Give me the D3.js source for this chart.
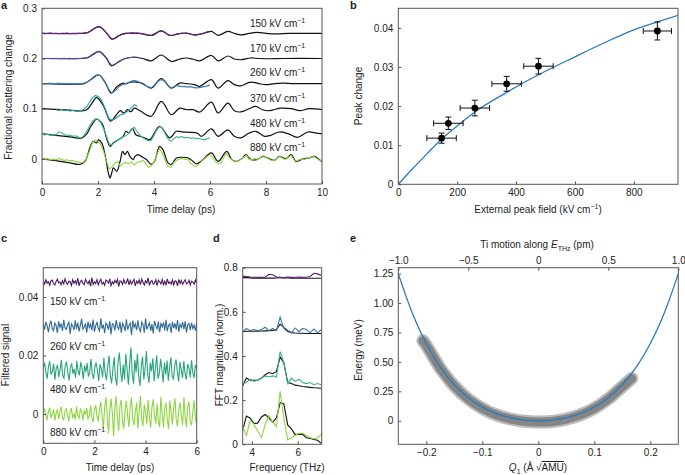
<!DOCTYPE html>
<html><head><meta charset="utf-8">
<script src="https://cdn.jsdelivr.net/npm/d3@7"></script>
<style>
body{margin:0;background:#fff}
text{font-family:"Liberation Sans",Arial,Helvetica,sans-serif;fill:#222}
</style>
</head><body>
<svg id="fig" width="685" height="475"></svg>
<script>
// ---------------- Panel a data (values in units of 1e-3, relative to offsets) ----------------
const aFields = ["150","170","260","370","480","880"];
const aOffsets = [0.25,0.2,0.15,0.1,0.05,0];
const aColors = ["#6a2381","#5a53a6","#3d7db5","#22a2a6","#36b97c","#8fd540"];
const aXTicks = [0,2,4,6,8,10];
const aYTicks = [0,0.1,0.2,0.3];
const aFit150 = [[0,0],[1.4,0],[1.6,1],[1.8,7],[2.05,13.5],[2.3,1],[2.49,-11.5],[2.7,-6],[2.9,-1],[3.2,0.5],[3.5,0],[3.9,-4],[4.26,5],[4.56,-4],[4.92,-0.5],[5.15,0.5],[5.45,-3],[5.7,-1],[6.05,4],[6.29,-4],[6.64,4],[6.87,0],[7.1,-3],[7.4,0],[7.7,2],[8.0,0],[8.4,-1],[8.8,0],[9.4,0],[10,0]];
const aFit170 = [[0,0],[1.4,0],[1.6,1],[1.8,7],[2.05,14],[2.3,1],[2.47,-14.5],[2.7,-8],[2.95,-0.5],[3.25,2.5],[3.6,0],[3.9,-4.6],[4.26,7],[4.62,-6],[4.92,-1],[5.15,1],[5.4,-1.5],[5.63,-4.6],[6.05,6],[6.29,-4.6],[6.64,5],[6.87,-1],[7.1,-2.5],[7.45,1],[7.75,0],[8.1,-0.5],[8.6,0],[10,0]];
const aFit260 = [[0,0],[1.3,-1],[1.5,0],[1.75,8],[2.02,17.6],[2.25,3],[2.47,-19],[2.68,-5.7],[2.9,1],[3.0,-0.5],[3.15,3],[3.4,3],[3.6,0],[3.9,-9],[4.26,10],[4.62,-9],[4.92,1],[5.15,0],[5.45,-2],[5.63,-5.5],[6.05,8],[6.29,-9],[6.64,6],[6.87,-2],[7.1,-4.5],[7.45,3],[7.75,0],[8.0,-2],[8.3,0],[8.6,1],[9.0,0],[10,0]];
const aFit370 = [[0,0],[0.5,-1.5],[1.0,-3],[1.4,-4.5],[1.6,-2],[1.8,12],[1.95,22.5],[2.2,5],[2.45,-25],[2.62,-15],[2.8,-4],[2.92,-9],[3.05,-2],[3.17,-6],[3.3,1],[3.5,-4],[3.9,-15],[4.26,14.6],[4.62,-12],[4.92,1],[5.15,-2],[5.4,-2],[5.63,-6.6],[6.05,13],[6.29,-8.6],[6.64,11],[6.87,-4],[7.1,-6.5],[7.4,0],[7.64,4.5],[7.87,-2],[8.12,-4],[8.5,1],[8.9,0],[9.2,-4],[9.55,0],[10,-2]];
const aFit480 = [[0,0],[0.5,-3],[1.0,-6],[1.42,-8.5],[1.6,0],[1.75,15],[1.95,29],[2.15,20],[2.3,-8],[2.43,-25],[2.55,-18],[2.73,-12],[2.9,-5],[3.0,5],[3.1,1.5],[3.23,11],[3.35,-2],[3.5,-5],[3.65,-8],[3.85,-11.6],[4.2,15],[4.56,-8],[4.8,5],[5.05,3.5],[5.3,3],[5.55,1],[5.7,-5],[6.05,10],[6.29,-5],[6.64,8],[6.87,-5],[7.1,-8],[7.4,1.5],[7.64,5],[7.94,-5],[8.17,-3],[8.47,3.6],[8.8,0],[9.13,-7],[9.5,3.6],[9.8,1.5],[10,0]];
const aFit880 = [[0,0],[0.6,-4.5],[1.0,-8],[1.35,-11],[1.54,-4.6],[1.71,22],[1.83,35],[1.95,32],[2.01,38],[2.13,32],[2.25,9],[2.37,-28],[2.43,-38],[2.49,-28],[2.55,-18],[2.67,-24.5],[2.79,-4.6],[2.88,15],[2.96,8.6],[3.05,15],[3.14,5],[3.26,-1.3],[3.32,5],[3.43,8.6],[3.55,5],[3.73,-1.3],[3.9,-11],[4.02,-4.6],[4.2,25],[4.32,18.5],[4.5,-8],[4.62,-11],[4.8,2],[4.98,3.3],[5.21,2],[5.39,-4.6],[5.51,-10],[5.69,-4.6],[6.05,12],[6.29,-5],[6.6,15],[6.77,-1],[6.93,-5],[7.17,2],[7.28,8.6],[7.46,-1],[7.7,-1],[7.88,5],[8.06,2],[8.3,-3],[8.47,5],[8.71,0.6],[8.9,8.6],[9.07,-5],[9.31,0],[9.55,2],[9.73,5],[9.9,-1],[10,-6]];
const aFits = [aFit150,aFit170,aFit260,aFit370,aFit480,aFit880];
// measured traces, sampled every aDataStep ps from aDataStart
const aDataStart = [0,0,0,0.5,0,0];
const aDataStep = 0.1;
const aData150 = [0.5,-0.5,0,0.8,-0.3,0.4,-0.6,0.3,0,0.7,-0.4,0.2,-0.5,0.4,-0.2,0.8,1.5,3.5,7.5,11,13.5,12,7,1.5,-6,-11.5,-10,-6.5,-3,-1.5,0.5,-0.3,1,0.2,0.8,-0.5,-0.8,-2,-3.2,-4.5,-3,1,4.5,4.8,2,-2.5,-4,-3.2,-1.5,-0.5,0.8,-0.2,0.3,-1.2,-2.5,-3.5,-2.2,-1,1,2.5,3.5];
const aData170 = [0.3,-0.4,0.5,0,-0.5,0.4,0.1,-0.3,0.6,-0.2,0.3,-0.4,0.2,-0.3,0.4,0.8,2,4,8,12,14,12,6,0,-8,-14,-12,-8,-4,-1.5,0.5,1.8,2.2,3,2.5];
const aData260 = [0.5,-0.8,0.3,1,-0.5,0.2,1.2,-0.6,0.4,-0.3,0.8,-0.8,0.2,-0.6,0.3,1,2.5,6,11,16,18,15,8,-2,-13,-19,-15,-9,-4,-2,0,2,5,6,5,2,-1.5,-4,-6.5,-8,-4,2,7,8,3,-3,-9.5,-7,-4,-5,-6,-5.5,-7,-6,-7.5,-8.5,-8,-7,-6,-4.5,-3];
const aData370 = [-2,-3.5,-1.5,-4,-2.5,-5,-3,-4.5,-5.5,-4,-1,4,13,22,26,25,19,8,-8,-20,-22,-21,-16,-12,-11,-7,-3,2,8,5];
const aData480 = [-1,-2.5,-1,-3,-1.5,-2,4,2,-1.5,-3.5,-2.5,-5,-4,-6.5,-8,-3,5,16,25,30,29,22,10,-5,-20,-22,-16,-13,-10,-6,-4,1,9,13,4,-3,-8,-11,-14,-13,-3,8,14,12,0,-10,-15,-10,-6,-7,-5.5,-8,-7,-9,-8,-10,-9,-11,-12,-10,-8];
const aData880 = [0,-1,0.5,-1.5,-0.5,-2,1,-1.5,-3,-2,-4,-3,-5.5,-6,-8,-6,2,16,32,38,35,28,15,-4,-20,-16,-8,-5,-14,-9,-7,-10,-6,-12,-7,-5,-3,-9,-17,-14,-6,8,21,12,-4,-15,-17,-8,-3,0,1,-1,0.5,-8,-13,-16,-11,-5,0,5,8.5,3,-6,-10,-8,4,10,2,-3,-6,-4,-1,3,7,-1,-2,1,-1,3,6,3,0,-3,-4,2,5,1,-1,4,7,-2,-4,-1,0,-1,2,3,5,1,-2,-4];
const aData = [aData150,aData170,aData260,aData370,aData480,aData880];

// ---------------- Panel b data ----------------
const bField = [147,170,260,368,476,880];
const bPeak = [0.0118,0.0156,0.0195,0.0257,0.0302,0.0392];
const bFieldErr = [50,50,50,50,50,48];
const bPeakErr = [0.0013,0.0016,0.002,0.0019,0.002,0.0023];
const bFitField = [0,50,100,142,200,260,368,476,600,700,800,880,950];
const bFitPeak = [0,0.0041,0.008,0.0112,0.0149,0.0185,0.0235,0.028,0.0326,0.0362,0.0395,0.0415,0.0432];
const bXTicks = [0,200,400,600,800];
const bYTicks = [0,0.01,0.02,0.03,0.04];

// ---------------- Panel c data (units of 1e-3, relative to offsets, 0–6 ps) ----------------
const cFields = ["150","260","480","880"];
const cOffsets = [0.045,0.03,0.015,0];
const cColors = ["#4b1a5f","#2e6a95","#27a67a","#8dd63f"];
const cXTicks = [0,2,4,6];
const cYTicks = [0,0.02,0.04];
const cSig150 = [0.4,-0.6,0.9,-0.3,0.2,-1.0,0.5,0.8,-0.4,-0.9,0.3,1.1,-0.2,0.1,-0.8,0.6,-0.5,1.2,-0.1,-0.7,0.4,0.2,-1.1,0.9,-0.3,0.5,-0.6,1.4,-1.2,0.3,0.7,-0.4,-0.8,1.0,0.1,-0.5,0.6,-1.3,1.6,-0.7,0.2,-0.4,0.9,-0.9,0.3,1.1,-0.6,0.0,-1.0,0.8,0.4,-0.3,1.2,-1.1,0.2,-0.5,0.7,-0.2,1.0,-1.4,0.5,0.3,-0.7,0.9,-0.4,-0.1,1.3,-0.9,0.6,-0.6,0.2,1.0,-1.2,0.4,-0.3,0.8,-0.8,1.1,0.0,-0.9,0.5,-0.2,1.5,-1.0,0.3,0.6,-0.7,-0.3,0.9,-1.1,0.7,0.2,-0.5,1.0,-0.8,0.4,-1.0,1.2,-0.3,0.1,-0.6,0.8,-0.9,0.5,0.3,-1.2,1.0,-0.4,0.6,-0.7,0.2,0.9,-0.5,-0.2,0.7,-0.9,0.4,0.1,-0.6,0.8,-0.3];
const cSig260 = [0.8,-1.2,1.5,0.2,-2.0,0.6,1.9,-0.8,-1.5,1.1,0.3,-2.3,1.7,-0.4,0.9,-1.6,2.2,-0.6,-1.1,0.5,1.4,-2.6,0.8,0.1,-1.3,2.0,-0.9,1.2,-1.8,0.4,2.5,-1.0,-0.3,1.0,-2.1,1.6,-0.5,0.7,-1.4,2.3,-1.9,0.2,1.3,-0.7,-1.6,2.7,-0.8,0.5,-2.4,1.1,0.4,-1.2,1.8,-2.8,0.9,0.6,-1.5,2.1,-0.3,-1.0,1.5,-2.2,1.0,0.2,-1.7,2.4,-1.2,0.3,1.1,-3.0,1.9,-0.4,0.8,-1.3,2.0,-0.9,-1.8,1.4,0.5,-2.2,2.6,-1.1,0.1,1.2,-1.6,0.7,-2.5,1.8,0.3,-0.9,1.6,-2.0,0.9,-0.2,1.3,-1.4,2.2,-1.7,0.4,0.8,-2.3,1.5,-0.6,1.0,-1.2,2.1,-1.9,0.6,-0.4,1.4,-1.0,1.7,-2.1,0.5,0.9,-1.3,1.2,-0.8,0.3,-1.5,1.1];
const cSig480 = [0.5,2.6,-0.8,-2.9,1.2,3.1,-1.5,-0.4,2.2,-3.3,0.6,1.8,-2.4,0.2,3.5,-1.9,-2.8,1.4,2.9,-0.7,-3.6,0.9,2.3,-1.2,0.4,-2.6,3.2,-0.3,-1.8,2.7,0.8,-3.1,1.6,-0.6,2.4,-2.2,-0.9,3.8,-1.4,-3.0,1.1,2.6,-0.2,-3.7,2.0,0.5,-2.5,4.2,-1.0,-3.4,1.5,5.0,-1.8,-4.5,0.6,4.4,-2.5,-5.2,2.8,6.0,-0.5,-4.0,1.9,-3.2,5.5,0.3,-5.0,2.2,7.8,-1.3,-4.6,3.5,-0.8,5.6,-2.0,-5.4,1.4,4.6,-3.3,0.7,6.5,-1.6,-4.4,2.6,-0.4,4.0,-3.8,1.0,5.1,-2.9,-1.2,3.9,0.4,-4.2,2.5,-1.5,3.3,-3.6,0.9,4.4,-2.1,-3.0,1.7,3.6,-0.6,-3.9,2.8,0.2,-2.7,3.1,-1.4,-3.2,2.0,0.8,-2.5,3.4,-0.9,-2.6,1.8,0.4];
const cSig880 = [0.4,1.9,-0.6,-1.8,0.9,2.2,-1.3,-0.2,1.6,-2.3,0.5,1.4,-1.7,0.8,2.5,-1.1,-2.0,1.0,1.8,-0.4,-2.4,0.7,2.0,-1.5,0.2,-1.9,2.6,-0.5,-1.4,1.7,0.9,-2.2,1.3,-0.3,2.1,-1.6,-0.8,2.9,-1.2,-2.7,1.5,3.0,-0.6,-2.5,1.8,4.2,-1.0,-4.8,2.5,5.8,-0.9,-6.6,1.4,5.3,0.2,-7.6,2.1,6.1,-1.5,-5.7,3.0,4.8,-2.4,-5.1,1.6,4.5,-0.8,-4.4,2.7,5.6,-1.9,-3.8,0.6,3.9,-5.0,1.2,6.2,-2.3,-4.1,3.3,0.5,-3.5,4.8,-1.0,-4.7,2.4,5.0,-0.6,-3.2,3.6,-2.8,-4.4,5.9,0.3,-4.6,2.0,3.8,-1.7,-5.1,4.6,0.8,-3.6,2.2,5.4,-2.0,-4.2,1.5,3.9,-0.5,-3.8,5.7,-1.3,-4.5,2.9,4.2,-2.6,-3.9,1.1,4.7,-1.8,-3.3];
const cSigs = [cSig150,cSig260,cSig480,cSig880];

// ---------------- Panel d data ----------------
const dFreq = [3.6,3.76,3.93,4.09,4.25,4.42,4.58,4.74,4.91,5.07,5.23,5.39,5.56,5.72,5.88,6.05,6.21,6.37,6.53,6.7,6.86,7.02];
const dData150 = [0.762,0.76,0.758,0.757,0.757,0.756,0.758,0.77,0.768,0.758,0.755,0.755,0.758,0.756,0.757,0.758,0.756,0.757,0.76,0.775,0.772,0.765];
const dFit150 = [0.755,0.755,0.754,0.753,0.753,0.753,0.753,0.753,0.753,0.754,0.756,0.754,0.753,0.752,0.752,0.752,0.752,0.752,0.752,0.752,0.752,0.752];
const dData260 = [0.51,0.525,0.515,0.52,0.515,0.52,0.53,0.515,0.525,0.515,0.576,0.525,0.51,0.505,0.527,0.51,0.525,0.52,0.505,0.522,0.505,0.52];
const dFit260 = [0.51,0.512,0.512,0.512,0.512,0.513,0.514,0.515,0.516,0.52,0.545,0.53,0.515,0.506,0.504,0.503,0.503,0.502,0.502,0.502,0.502,0.502];
const dData480 = [0.275,0.28,0.295,0.285,0.29,0.30,0.31,0.305,0.31,0.305,0.42,0.37,0.275,0.30,0.285,0.295,0.28,0.275,0.28,0.27,0.275,0.27];
const dFit480 = [0.265,0.30,0.29,0.29,0.29,0.30,0.315,0.325,0.32,0.33,0.395,0.37,0.28,0.275,0.268,0.265,0.262,0.26,0.258,0.256,0.255,0.254];
const dData880 = [0.08,0.04,0.11,0.09,0.06,0.03,0.09,0.13,0.10,0.08,0.24,0.12,0.02,0.03,0.04,0.05,0.05,0.04,0.03,0.025,0.03,0.045];
const dFit880 = [0.063,0.128,0.118,0.095,0.096,0.124,0.135,0.12,0.10,0.12,0.189,0.184,0.088,0.07,0.045,0.045,0.045,0.03,0.027,0.022,0.018,0.004];
const dData = [dData150,dData260,dData480,dData880];
const dFits = [dFit150,dFit260,dFit480,dFit880];
const dColors = ["#5c1f72","#3a76aa","#2fb57c","#8dd640"];
const dXTicks = [4,6];
const dYTicks = [0,0.2,0.4,0.6,0.8];

// ---------------- Panel e data ----------------
const eQ = [-0.25,-0.225,-0.2,-0.175,-0.15,-0.125,-0.1,-0.075,-0.05,-0.025,0,0.025,0.05,0.075,0.1,0.125,0.15,0.175,0.2,0.225,0.25];
const eEnergy = [1.25,0.916,0.656,0.456,0.306,0.195,0.116,0.061,0.026,0.006,0,0.006,0.026,0.061,0.116,0.195,0.306,0.456,0.656,0.916,1.25];
const eBandQ = [-0.206,-0.2,-0.175,-0.15,-0.125,-0.1,-0.075,-0.05,-0.025,0,0.025,0.05,0.075,0.1,0.125,0.15,0.167];
const eBandE = [0.68,0.64,0.445,0.295,0.185,0.105,0.05,0.015,-0.004,-0.01,-0.006,0.014,0.05,0.105,0.185,0.29,0.36];
const eXTicks = [-0.2,-0.1,0,0.1,0.2];
const eTopTicks = [-1,-0.5,0,0.5,1];
const eYTicks = [0,0.25,0.5,0.75,1,1.25];

// ---------------- drawing ----------------
const svg = d3.select("#fig");
const FRAME = "#555";
function fmt(spec){ return d => d === 0 ? "0" : d3.format(spec)(d); }
function clean(g){
  g.select(".domain").remove();
  g.selectAll(".tick line").attr("stroke", FRAME).attr("stroke-width", 1);
  g.selectAll(".tick text").attr("font-size", 10).attr("fill", "#222")
   .attr("font-family", '"Liberation Sans",Arial,Helvetica,sans-serif');
}
function frame(xs, ys, xt, yt, xf, yf){
  const [x0,x1] = xs.range(), [y0,y1] = ys.range();
  svg.append("g").attr("transform", `translate(0,${y0})`)
    .call(d3.axisBottom(xs).tickValues(xt).tickFormat(xf).tickSize(-3).tickPadding(5)).call(clean);
  svg.append("g").attr("transform", `translate(${x0},0)`)
    .call(d3.axisLeft(ys).tickValues(yt).tickFormat(yf).tickSize(-3).tickPadding(5)).call(clean);
  svg.append("rect").attr("x", x0).attr("y", y1).attr("width", x1-x0).attr("height", y0-y1)
    .attr("fill","none").attr("stroke",FRAME).attr("stroke-width",1);
}
function clip(id, xs, ys){
  const [x0,x1] = xs.range(), [y0,y1] = ys.range();
  svg.append("clipPath").attr("id", id).append("rect")
    .attr("x", x0).attr("y", y1).attr("width", x1-x0).attr("height", y0-y1);
  return svg.append("g").attr("clip-path", `url(#${id})`);
}
function vtitle(x, y, txt){
  svg.append("text").attr("transform", `translate(${x},${y}) rotate(-90)`)
    .attr("text-anchor","middle").attr("font-size",10).text(txt);
}
function htitle(x, y, txt){
  return svg.append("text").attr("x",x).attr("y",y).attr("text-anchor","middle").attr("font-size",10).text(txt);
}
function kvLabel(x, y, num){
  const t = svg.append("text").attr("x",x).attr("y",y).attr("font-size",10);
  t.append("tspan").text(num + " kV cm");
  t.append("tspan").attr("dy",-4).attr("font-size",7).text("\u22121");
}
function letter(x, y, s){
  svg.append("text").attr("x",x).attr("y",y).attr("font-size",11).attr("font-weight","bold").text(s);
}

// ===== Panel a =====
const xa = d3.scaleLinear().domain([0,10]).range([42,322]);
const ya = d3.scaleLinear().domain([-0.05,0.3]).range([184,8.3]);
const ga = clip("clipA", xa, ya);
aFits.forEach((fit,i) => {
  const line = d3.line().x(d => xa(d[0])).y(d => ya(aOffsets[i] + d[1]/1000)).curve(d3.curveCatmullRom.alpha(0.5));
  ga.append("path").attr("d", line(fit)).attr("fill","none").attr("stroke","#111").attr("stroke-width",1.2);
});
aData.forEach((arr,i) => {
  const line = d3.line().x((d,k) => xa(aDataStart[i] + k*aDataStep)).y(d => ya(aOffsets[i] + d/1000));
  ga.append("path").attr("d", line(arr)).attr("fill","none").attr("stroke",aColors[i]).attr("stroke-width",1.1);
});
frame(xa, ya, aXTicks, aYTicks, fmt("d"), fmt(".1f"));
const aLabelY = [27,52,76,101.5,127,150.5];
aFields.forEach((f,i) => kvLabel(250, aLabelY[i], f));
vtitle(11.5, 97, "Fractional scattering change");
htitle(181, 213, "Time delay (ps)");
letter(1, 9, "a");

// ===== Panel b =====
const xb = d3.scaleLinear().domain([0,950]).range([398.3,678]);
const yb = d3.scaleLinear().domain([0,0.045]).range([184.3,8.3]);
const gb = clip("clipB", xb, yb);
const bLine = d3.line().x((d,i) => xb(bFitField[i])).y(d => yb(d)).curve(d3.curveMonotoneX);
gb.append("path").attr("d", bLine(bFitPeak)).attr("fill","none").attr("stroke","#2a7bbd").attr("stroke-width",1.3);
bField.forEach((f,i) => {
  const p = bPeak[i], ex = bFieldErr[i], ey = bPeakErr[i];
  const g = svg.append("g").attr("stroke","#111").attr("stroke-width",1);
  g.append("line").attr("x1",xb(f-ex)).attr("x2",xb(f+ex)).attr("y1",yb(p)).attr("y2",yb(p));
  g.append("line").attr("x1",xb(f-ex)).attr("x2",xb(f-ex)).attr("y1",yb(p)-3).attr("y2",yb(p)+3);
  g.append("line").attr("x1",xb(f+ex)).attr("x2",xb(f+ex)).attr("y1",yb(p)-3).attr("y2",yb(p)+3);
  g.append("line").attr("x1",xb(f)).attr("x2",xb(f)).attr("y1",yb(p-ey)).attr("y2",yb(p+ey));
  g.append("line").attr("x1",xb(f)-3).attr("x2",xb(f)+3).attr("y1",yb(p-ey)).attr("y2",yb(p-ey));
  g.append("line").attr("x1",xb(f)-3).attr("x2",xb(f)+3).attr("y1",yb(p+ey)).attr("y2",yb(p+ey));
  svg.append("circle").attr("cx",xb(f)).attr("cy",yb(p)).attr("r",3.4).attr("fill","#000");
});
frame(xb, yb, bXTicks, bYTicks, fmt("d"), fmt(".2f"));
vtitle(361.5, 96, "Peak change");
{
  const t = htitle(538, 213, "External peak field (kV cm");
  t.append("tspan").attr("dy",-4).attr("font-size",7).text("\u22121");
  t.append("tspan").attr("dy",4).text(")");
}
letter(350, 9, "b");

// ===== Panel c =====
const xc = d3.scaleLinear().domain([0,6]).range([43.3,196.7]);
const yc = d3.scaleLinear().domain([-0.01,0.05]).range([443.3,267.7]);
const gc = clip("clipC", xc, yc);
cSigs.forEach((arr,i) => {
  const n = arr.length;
  const line = d3.line().x((d,k) => xc(k*6/(n-1))).y(d => yc(cOffsets[i] + d/1000));
  gc.append("path").attr("d", line(arr)).attr("fill","none").attr("stroke",cColors[i]).attr("stroke-width",1.1);
});
frame(xc, yc, cXTicks, cYTicks, fmt("d"), fmt(".2f"));
const cLabelY = [305,350,393,436];
cFields.forEach((f,i) => kvLabel(50, cLabelY[i], f));
vtitle(9, 355, "Filtered signal");
htitle(120, 471, "Time delay (ps)");
letter(1, 242, "c");

// ===== Panel d =====
const xd = d3.scaleLinear().domain([3.6,7.04]).range([242.7,321.7]);
const yd = d3.scaleLinear().domain([0,0.8]).range([444.3,267.7]);
const gd = clip("clipD", xd, yd);
const dLine = d3.line().x((d,i) => xd(dFreq[i])).y(d => yd(d));
dFits.forEach(arr => gd.append("path").attr("d", dLine(arr)).attr("fill","none").attr("stroke","#111").attr("stroke-width",1.1));
dData.forEach((arr,i) => gd.append("path").attr("d", dLine(arr)).attr("fill","none").attr("stroke",dColors[i]).attr("stroke-width",1.1));
frame(xd, yd, dXTicks, dYTicks, fmt("d"), fmt(".1f"));
vtitle(223, 355, "FFT magnitude (norm.)");
htitle(287, 471, "Frequency (THz)");
letter(213, 242, "d");

// ===== Panel e =====
const xe = d3.scaleLinear().domain([-0.25,0.25]).range([398.3,678.3]);
const xeTop = d3.scaleLinear().domain([-1,1]).range([398.3,678.3]);
const ye = d3.scaleLinear().domain([-0.2,1.3]).range([444.3,267.7]);
const ge = clip("clipE", xe, ye);
const bandLine = d3.line().x((d,i) => xe(eBandQ[i])).y(d => ye(d)).curve(d3.curveCatmullRom.alpha(0.5));
ge.append("path").attr("d", bandLine(eBandE)).attr("fill","none").attr("stroke","#bcbcbc")
  .attr("stroke-width",13).attr("stroke-linecap","round").attr("stroke-linejoin","round");
ge.append("path").attr("d", bandLine(eBandE)).attr("fill","none").attr("stroke","#858585")
  .attr("stroke-width",9).attr("stroke-linecap","round").attr("stroke-linejoin","round");
const eLine = d3.line().x((d,i) => xe(eQ[i])).y(d => ye(d)).curve(d3.curveCatmullRom.alpha(0.5));
ge.append("path").attr("d", eLine(eEnergy)).attr("fill","none").attr("stroke","#2a7bbd").attr("stroke-width",1.3);
frame(xe, ye, eXTicks, eYTicks, fmt(".1f"), fmt(".2f"));
svg.append("g").attr("transform","translate(0,267.7)")
  .call(d3.axisTop(xeTop).tickValues(eTopTicks).tickFormat(fmt(".1f")).tickSize(-3).tickPadding(4)).call(clean);
vtitle(361.5, 350, "Energy (meV)");
{
  const t = svg.append("text").attr("x",538).attr("y",471).attr("text-anchor","middle").attr("font-size",10);
  t.append("tspan").attr("font-style","italic").text("Q");
  t.append("tspan").attr("dy",3).attr("font-size",7).text("1");
  t.append("tspan").attr("dy",-3).text(" (\u00C5 \u221A");
  t.append("tspan").style("text-decoration","overline").text("AMU");
  t.append("tspan").text(")");
}
{
  const t = svg.append("text").attr("x",537).attr("y",248).attr("text-anchor","middle").attr("font-size",10);
  t.append("tspan").text("Ti motion along ");
  t.append("tspan").attr("font-style","italic").text("E");
  t.append("tspan").attr("dy",3).attr("font-size",7).text("THz");
  t.append("tspan").attr("dy",-3).text(" (pm)");
}
letter(350, 242, "e");
</script>
</body></html>
